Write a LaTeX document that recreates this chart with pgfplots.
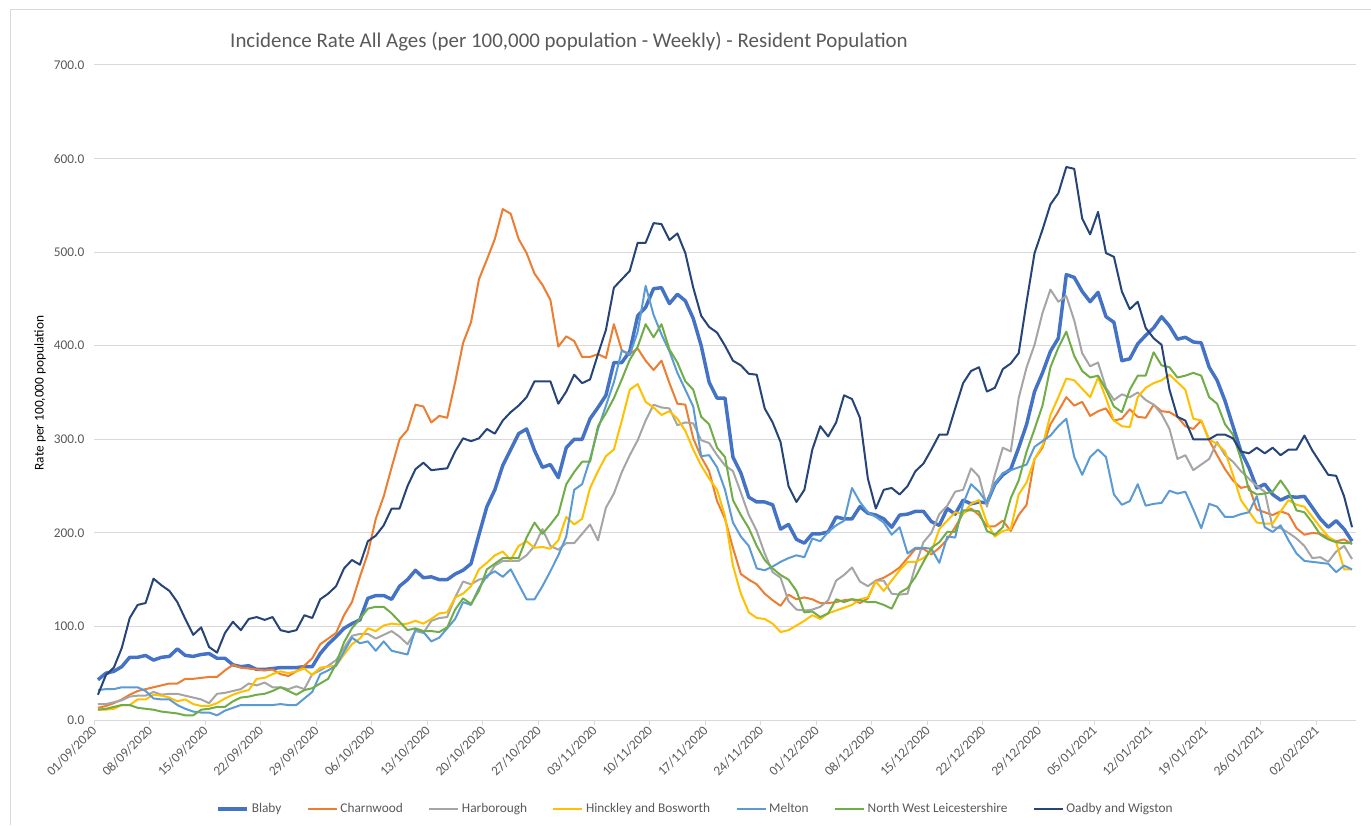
\documentclass[border=0pt]{standalone}
\usepackage{fontspec}
\setmainfont{Carlito}
\usepackage{pgfplots}
\pgfplotsset{compat=1.18}
\usepackage{pgfplotstable}
\definecolor{cBL}{HTML}{4472C4}
\definecolor{cCH}{HTML}{ED7D31}
\definecolor{cHA}{HTML}{A5A5A5}
\definecolor{cHI}{HTML}{FFC000}
\definecolor{cME}{HTML}{5B9BD5}
\definecolor{cNW}{HTML}{70AD47}
\definecolor{cOA}{HTML}{264478}
\definecolor{txt}{HTML}{595959}
\definecolor{lgrid}{HTML}{D9D9D9}
\pgfplotstableread{
d bl ch ha hi me nw oa
0 43 13 17 11 32 11 27
1 50 15 17 11 33 12 48
2 52 18 19 12 33 14 56
3 57 22 21 16 35 16 77
4 67 27 25 16 35 16 109
5 67 31 26 22 35 13 123
6 69 33 26 22 31 12 125
7 64 35 30 27 23 11 151
8 67 37 27 26 22 9 144
9 68 39 28 24 22 8 138
10 76 39 28 20 16 7 126
11 69 44 26 22 12 5 108
12 68 44 24 17 9 5 91
13 70 45 22 15 8 11 99
14 71 46 18 15 8 12 78
15 66 46 28 18 5 14 72
16 66 53 29 23 10 14 93
17 59 59 31 27 13 20 105
18 57 56 33 30 16 24 96
19 58 55 39 32 16 25 108
20 54 54 37 44 16 27 110
21 54 53 40 45 16 28 107
22 55 54 35 49 16 31 110
23 56 49 35 52 17 35 96
24 56 47 33 50 16 31 94
25 56 52 36 52 16 27 96
26 57 58 33 55 23 32 112
27 57 66 49 48 30 34 109
28 71 81 53 56 49 39 129
29 81 87 58 57 53 44 135
30 89 93 64 58 58 60 143
31 98 112 77 70 73 83 162
32 103 126 90 81 88 98 171
33 107 153 92 87 82 108 166
34 130 178 92 98 84 119 191
35 133 215 87 95 74 121 197
36 133 239 91 101 84 121 208
37 129 270 95 103 74 114 226
38 143 300 89 102 72 105 226
39 150 310 81 103 70 96 250
40 160 337 95 106 97 98 268
41 152 335 93 103 94 95 275
42 153 318 106 108 84 95 267
43 150 325 109 114 88 94 268
44 150 323 110 115 98 99 269
45 156 361 131 131 108 118 287
46 160 403 148 135 126 130 301
47 167 425 145 143 123 124 298
48 198 471 150 161 141 138 301
49 228 492 152 168 154 161 311
50 246 514 165 176 159 167 306
51 272 546 170 180 153 173 320
52 289 541 170 171 161 173 329
53 306 514 170 186 145 173 336
54 311 499 176 191 129 195 345
55 288 477 186 184 129 211 362
56 270 465 204 185 143 199 362
57 273 449 186 183 159 209 362
58 259 399 182 192 176 220 338
59 291 410 189 217 196 252 351
60 300 405 189 209 246 265 369
61 300 388 199 215 252 276 360
62 322 388 209 248 279 276 364
63 334 391 192 266 311 314 391
64 347 387 227 282 336 328 417
65 382 423 242 289 361 344 462
66 382 395 265 320 395 364 471
67 394 391 283 353 390 385 480
68 432 397 299 359 415 399 510
69 441 384 320 340 464 423 510
70 461 374 337 334 433 409 531
71 462 384 334 326 412 423 530
72 445 360 333 330 394 396 513
73 455 338 315 322 371 382 520
74 448 337 318 309 353 362 499
75 429 301 317 289 335 353 462
76 400 281 299 272 282 324 432
77 361 266 296 258 283 316 420
78 344 234 283 246 270 291 414
79 344 215 272 218 246 281 400
80 281 184 266 165 211 235 384
81 264 156 243 135 196 219 379
82 238 150 219 115 186 205 370
83 233 145 202 109 162 186 369
84 233 135 178 108 160 171 333
85 230 128 158 103 164 162 318
86 204 122 152 94 169 155 297
87 209 134 127 96 173 150 250
88 193 129 118 101 176 138 233
89 189 131 117 106 174 115 246
90 199 129 118 112 194 116 289
91 199 125 121 108 191 110 314
92 201 125 128 114 201 114 303
93 217 126 149 117 208 129 318
94 215 128 155 120 213 126 347
95 215 129 163 123 248 129 343
96 228 125 148 129 233 128 323
97 221 130 143 131 222 126 258
98 219 149 149 148 217 126 226
99 215 152 149 138 211 123 246
100 206 157 135 149 198 119 248
101 219 163 134 160 206 136 241
102 220 173 135 169 178 141 250
103 223 183 165 169 184 153 266
104 223 183 190 173 184 169 274
105 212 177 200 180 183 184 289
106 208 184 220 204 168 190 305
107 226 193 229 213 196 201 305
108 220 206 244 222 195 201 333
109 235 221 246 220 231 224 360
110 231 226 269 231 252 224 373
111 233 219 260 235 244 223 377
112 232 207 228 211 232 202 351
113 252 207 262 196 252 198 355
114 262 213 291 202 264 206 375
115 268 202 287 204 267 237 381
116 291 219 344 241 270 256 392
117 316 230 377 254 273 287 447
118 351 279 401 279 292 311 499
119 371 291 435 293 298 336 524
120 394 316 460 326 304 377 551
121 408 330 447 345 314 398 563
122 476 345 453 365 322 415 591
123 473 336 427 363 281 389 589
124 458 340 392 354 262 373 536
125 447 325 378 345 281 366 519
126 457 330 382 366 289 368 543
127 431 333 355 344 281 353 499
128 425 320 342 320 241 335 495
129 384 322 348 314 230 329 458
130 386 332 345 313 234 353 439
131 402 324 350 345 252 368 447
132 411 323 342 355 229 368 419
133 419 337 337 360 231 393 408
134 431 330 327 363 232 379 401
135 421 329 311 369 245 377 353
136 407 324 279 361 242 366 324
137 409 314 283 353 244 368 320
138 404 311 267 322 225 371 300
139 403 320 273 320 205 368 300
140 377 299 279 300 231 345 300
141 363 283 297 295 228 338 305
142 341 268 283 287 217 316 305
143 314 256 276 262 217 305 301
144 287 248 266 235 220 279 287
145 270 250 258 223 222 246 285
146 248 225 250 211 239 241 291
147 252 222 244 210 206 242 285
148 241 219 206 210 201 244 291
149 235 223 205 223 208 256 283
150 239 220 200 235 192 244 289
151 238 205 194 230 178 224 289
152 239 198 186 228 170 222 304
153 227 200 173 217 169 211 288
154 215 199 174 206 168 198 275
155 206 195 169 196 167 193 262
156 213 191 180 190 158 190 261
157 204 193 186 161 165 189 239
158 191 188 172 161 161 189 206
}\data
\begin{document}
\begin{tikzpicture}[x=0.75pt,y=0.75pt]
\path[use as bounding box] (0,0) rectangle (1371,825);
\draw[color=lgrid, line width=0.75pt] (10,0) -- (10,815) -- (1371,815);
\node[font=\fontsize{15.7}{18}\selectfont, text=txt] at (569,783) {Incidence Rate All Ages (per 100,000 population - Weekly) - Resident Population};
\node[rotate=90, font=\fontsize{10}{12}\selectfont, text=black] at (40,432) {Rate per 100,000 population};
\begin{axis}[
  at={(70.5pt,78.75pt)}, anchor=south west,
  scale only axis, width=946.5pt, height=491.25pt,
  xmin=0, xmax=159, ymin=0, ymax=700,
  axis x line*=bottom, axis y line*=left,
  x axis line style={draw=lgrid, line width=0.75pt, -},
  y axis line style={draw=none},
  ytick={0,100,...,700},
  ymajorgrids, grid style={draw=lgrid, line width=0.75pt},
  xtick={0,7,...,154},
  xticklabels={01/09/2020,08/09/2020,15/09/2020,22/09/2020,29/09/2020,06/10/2020,13/10/2020,20/10/2020,27/10/2020,03/11/2020,10/11/2020,17/11/2020,24/11/2020,01/12/2020,08/12/2020,15/12/2020,22/12/2020,29/12/2020,05/01/2021,12/01/2021,19/01/2021,26/01/2021,02/02/2021},
  tick align=outside, major tick length=3.75pt,
  xtick style={draw=lgrid, line width=0.75pt},
  ytick style={draw=none},
  xticklabel style={font=\fontsize{10}{12}\selectfont, text=txt, rotate=45, anchor=east, xshift=2pt, yshift=-2pt},
  yticklabel style={font=\fontsize{10}{12}\selectfont, text=txt, /pgf/number format/.cd, fixed, fixed zerofill, precision=1, assume math mode=true},
  every axis plot/.append style={line width=1.5pt, line join=round, no marks},
  legend style={at={(0.477,-0.136)}, anchor=center, draw=none, fill=none, font=\fontsize{10}{12}\selectfont, text=txt, legend columns=-1, /tikz/every even column/.append style={column sep=17pt}},
  legend image code/.code={\draw[#1] (0pt,0pt) -- (21.75pt,0pt);},
]
\addplot[cBL, line width=2.6pt] table[x expr=\thisrow{d}+0.5, y=bl] {\data};
\addplot[cCH] table[x expr=\thisrow{d}+0.5, y=ch] {\data};
\addplot[cHA] table[x expr=\thisrow{d}+0.5, y=ha] {\data};
\addplot[cHI] table[x expr=\thisrow{d}+0.5, y=hi] {\data};
\addplot[cME] table[x expr=\thisrow{d}+0.5, y=me] {\data};
\addplot[cNW] table[x expr=\thisrow{d}+0.5, y=nw] {\data};
\addplot[cOA] table[x expr=\thisrow{d}+0.5, y=oa] {\data};
\legend{Blaby,Charnwood,Harborough,Hinckley and Bosworth,Melton,North West Leicestershire,Oadby and Wigston}
\end{axis}
\end{tikzpicture}
\end{document}
